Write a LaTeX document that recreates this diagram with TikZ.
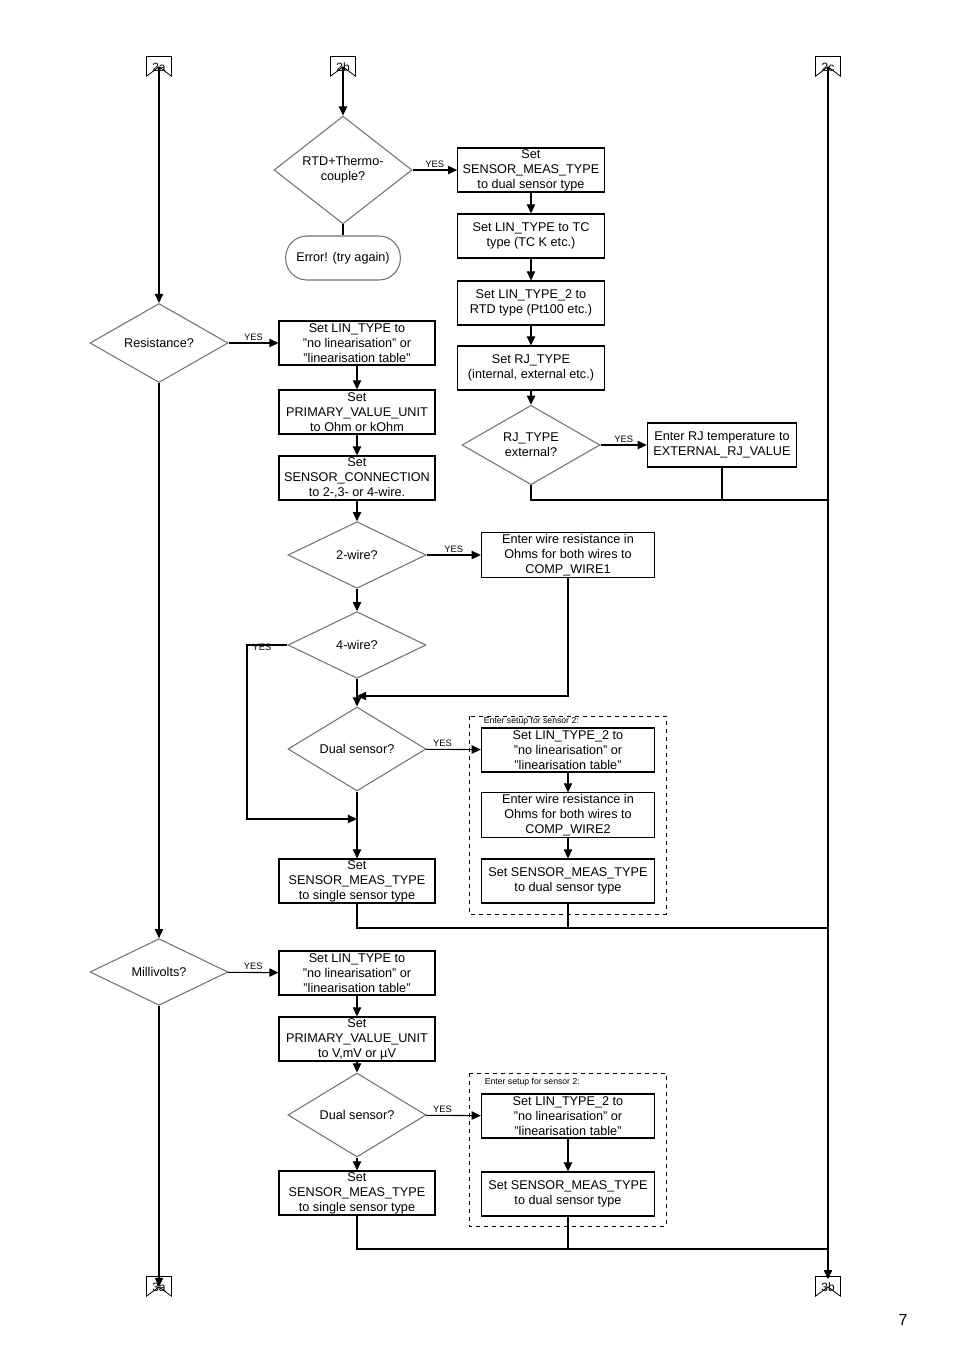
\documentclass[tikz,border=0pt]{standalone}
\usepackage{fontspec}
\setmainfont{Liberation Sans}
\usetikzlibrary{calc,positioning,shapes}
\usetikzlibrary{arrows.meta}
\tikzset{>={Triangle[width=2.2mm,length=2.4mm]}}

\begin{document}
\begin{tikzpicture}[x=0.75pt,y=-0.75pt,line width=0.8pt]
      %%%%%%%%%%%%%%%%%%%%%%%%%%%%%%%%%%%%%%%%%%%%%%%%%%
      %% sensor setup flow
      %%%%%%%%%%%%%%%%%%%%%%%%%%%%%%%%%%%%%%%%%%%%%%%%%%
      \tikzstyle{bnode} = [draw, rectangle, inner sep = 1pt, align=center, font=\fontsize{9.5}{11.2}\selectfont, minimum height=33pt]
      \tikzstyle{dnode} = [draw=black!55, diamond, inner sep = 0pt, align=center, font=\fontsize{9.5}{11.2}\selectfont, minimum width=103.5pt, minimum height=50pt]
      \tikzstyle{tnode} = [draw=black!55, rectangle, rounded corners=16pt, inner sep=2pt, minimum width=86pt, minimum height=33pt, font=\fontsize{9.5}{11.2}\selectfont]
      \tikzstyle{conn} = [inner sep=0pt, minimum width=18pt, minimum height=11pt, font=\fontsize{9}{10}\selectfont]
      \tikzstyle{yes} = [font=\fontsize{7}{8}\selectfont, above, inner sep=1.5pt]
      \tikzstyle{grp} = [draw, dashed, line width=0.6pt]
      \tikzstyle{glabel} = [font=\fontsize{6.5}{7}\selectfont, anchor=north west, inner sep=1pt]
      \useasboundingbox (0,0) rectangle (954,1350);
      % off-page connectors
      \node[conn] (c2a) at (159,67) {2a};
      \node[conn] (c2b) at (343,67) {2b};
      \node[conn] (c2c) at (828,67) {2c};
      \node[conn] (c3a) at (159,1287) {3a};
      \node[conn] (c3b) at (828,1287) {3b};
      \foreach \c in {c2a,c2b,c2c,c3a,c3b} {
        \draw[line width=0.6pt] ([yshift=2pt]\c.north west) -- ([yshift=2pt]\c.north east) -- ([yshift=-1pt]\c.south east)
          -- ($(\c.south)+(0,-8)$) coordinate (\c t) -- ([yshift=-1pt]\c.south west) -- cycle;
      }
      % right column, upper part
      \node[dnode] (rtd) at (343,170) {RTD+Thermo-\\couple?};
      \node[tnode] (err) at (343,258) {Error! (try again)};
      \node[bnode, minimum width=110pt] (dual1) at (531,170) {Set\\SENSOR\_MEAS\_TYPE\\to dual sensor type};
      \node[bnode, minimum width=110pt] (lin1) at (531,236) {Set LIN\_TYPE to TC\\type (TC K etc.)};
      \node[bnode, minimum width=110pt] (lin2) at (531,303) {Set LIN\_TYPE\_2 to\\RTD type (Pt100 etc.)};
      \node[bnode, minimum width=110pt] (rjt) at (531,368) {Set RJ\_TYPE\\(internal, external etc.)};
      \node[dnode] (rjx) at (531,445) {RJ\_TYPE\\external?};
      \node[bnode, minimum width=112pt] (rjv) at (722,445) {Enter RJ temperature to\\EXTERNAL\_RJ\_VALUE};
      % resistance branch
      \node[dnode] (res) at (159,343) {Resistance?};
      \node[bnode, minimum width=117pt] (rlin) at (357,343) {Set LIN\_TYPE to\\"no linearisation" or\\"linearisation table"};
      \node[bnode, minimum width=117pt] (runit) at (357,412) {Set\\PRIMARY\_VALUE\_UNIT\\to Ohm or kOhm};
      \node[bnode, minimum width=117pt] (rcon) at (357,478) {Set\\SENSOR\_CONNECTION\\to 2-,3- or 4-wire.};
      \node[dnode] (w2) at (357,555) {2-wire?};
      \node[bnode, minimum width=130pt] (cw1) at (568,555) {Enter wire resistance in\\Ohms for both wires to\\COMP\_WIRE1};
      \node[dnode] (w4) at (357,645) {4-wire?};
      \coordinate (m1) at (357,696);
      \node[dnode] (ds1) at (357,749) {Dual sensor?};
      \coordinate (m2) at (357,819);
      \node[bnode, minimum width=117pt] (single1) at (357,881) {Set\\SENSOR\_MEAS\_TYPE\\to single sensor type};
      \node[bnode, minimum width=130pt] (s2lin) at (568,750) {Set LIN\_TYPE\_2 to\\"no linearisation" or\\"linearisation table"};
      \node[bnode, minimum width=130pt] (cw2) at (568,815) {Enter wire resistance in\\Ohms for both wires to\\COMP\_WIRE2};
      \node[bnode, minimum width=130pt] (s2dual) at (568,881) {Set SENSOR\_MEAS\_TYPE\\to dual sensor type};
      \draw[grp] (469,716) rectangle (666,914);
      \node[glabel] (g1) at (482,715) {Enter setup for sensor 2:};
      % millivolt branch
      \node[dnode] (mv) at (159,972) {Millivolts?};
      \node[bnode, minimum width=117pt] (mlin) at (357,973) {Set LIN\_TYPE to\\"no linearisation" or\\"linearisation table"};
      \node[bnode, minimum width=117pt] (munit) at (357,1039) {Set\\PRIMARY\_VALUE\_UNIT\\to V,mV or \textmu V};
      \node[dnode] (ds2) at (357,1115) {Dual sensor?};
      \node[bnode, minimum width=117pt] (single2) at (357,1193) {Set\\SENSOR\_MEAS\_TYPE\\to single sensor type};
      \node[bnode, minimum width=130pt] (m2lin) at (568,1116) {Set LIN\_TYPE\_2 to\\"no linearisation" or\\"linearisation table"};
      \node[bnode, minimum width=130pt] (m2dual) at (568,1194) {Set SENSOR\_MEAS\_TYPE\\to dual sensor type};
      \draw[grp] (469,1073) rectangle (666,1226);
      \node[glabel] (g2) at (483,1076) {Enter setup for sensor 2:};
      \node[font=\fontsize{12}{14}\selectfont] (page) at (903,1320) {7};
      % connectors
      \draw[->] (c2at) -- (res);
      \draw[->] (res) -- (mv);
      \draw[->] (mv) -- (c3at);
      \draw[->] (c2ct) -- (c3b.north);
      \draw[->] (c2bt) -- (rtd);
      \draw[->] (rtd) -- node[yes] {YES} (dual1);
      \draw (rtd) -- (err);
      \draw[->] (dual1) -- (lin1);
      \draw[->] (lin1) -- (lin2);
      \draw[->] (lin2) -- (rjt);
      \draw[->] (rjt) -- (rjx);
      \draw[->] (rjx) -- node[yes] {YES} (rjv);
      \draw (rjx.south) |- (828,500);
      \draw (rjv.south) -- (722,500);
      \draw[->] (res) -- node[yes] {YES} (rlin);
      \draw[->] (rlin) -- (runit);
      \draw[->] (runit) -- (rcon);
      \draw[->] (rcon) -- (w2);
      \draw[->] (w2) -- node[yes] {YES} (cw1);
      \draw[->] (w2) -- (w4);
      \draw[->] (cw1.south) |- (m1);
      \draw[->] (w4) -- (ds1);
      \draw[->] (w4.west) -- node[yes, pos=0.5, xshift=-4pt, yshift=-6pt] {YES} (247,645) |- (m2);
      \draw[->] (ds1) -- node[yes, pos=0.3] {YES} (s2lin);
      \draw[->] (ds1) -- (single1);
      \draw[->] (s2lin) -- (cw2);
      \draw[->] (cw2) -- (s2dual);
      \draw (single1.south) |- (828,928);
      \draw (s2dual.south) -- (568,928);
      \draw[->] (mv) -- node[yes] {YES} (mlin);
      \draw[->] (mlin) -- (munit);
      \draw[->] (munit) -- (ds2);
      \draw[->] (ds2) -- node[yes, pos=0.3] {YES} (m2lin);
      \draw[->] (ds2) -- (single2);
      \draw[->] (m2lin) -- (m2dual);
      \draw (single2.south) |- (828,1249);
      \draw (m2dual.south) -- (568,1249);
\end{tikzpicture}
\end{document}
